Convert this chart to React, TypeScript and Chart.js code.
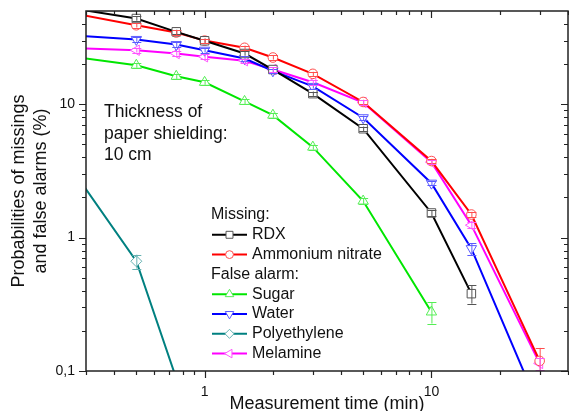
import React, { useEffect, useRef } from 'react';
import { Chart, registerables } from 'chart.js';

Chart.register(...registerables);

const FONT = "'Liberation Sans', Arial, sans-serif";

// Measurement times (min)
const TIMES = [0.25, 0.5, 0.75, 1, 1.5, 2, 3, 5, 10, 15, 30];

// Missing probabilities (%)
const RDX = [53, 43.9, 34.9, 29.9, 24.0, 18.2, 12.0, 6.55, 1.53, 0.38, null];
const RDX_ERR = [0, 1.6, 1.3, 1.1, 0.9, 0.7, 0.45, 0.25, 0.08, 0.06, 0];
const AMMONIUM_NITRATE = [48.9, 39.1, 34.5, 30.0, 26.5, 22.4, 16.9, 10.4, 3.75, 1.49, 0.119];
const AMMONIUM_NITRATE_ERR = [0, 1.5, 1.3, 1.1, 1.0, 0.8, 0.6, 0.4, 0.15, 0.07, 0.03];

// False alarm probabilities (%)
const SUGAR = [23.0, 19.6, 16.2, 14.6, 10.5, 8.28, 4.77, 1.88, 0.277, null, null];
const SUGAR_ERR = [0, 0.8, 0.7, 0.6, 0.45, 0.35, 0.2, 0.09, 0.05, 0, 0];
const WATER = [33.0, 30.6, 28.0, 25.4, 22.0, 17.8, 13.6, 7.92, 2.56, 0.827, 0.052];
const WATER_ERR = [0, 1.2, 1.1, 1.0, 0.85, 0.7, 0.5, 0.3, 0.1, 0.08, 0];
const POLYETHYLENE = [3.6, 0.665, 0.088, null, null, null, null, null, null, null, null];
const POLYETHYLENE_ERR = [0, 0.08, 0, 0, 0, 0, 0, 0, 0, 0, 0];
const MELAMINE = [26.5, 25.4, 24.0, 22.7, 21.2, 18.2, 14.6, 10.3, 3.68, 1.24, 0.114];
const MELAMINE_ERR = [0, 1.0, 0.9, 0.9, 0.8, 0.7, 0.55, 0.4, 0.14, 0.06, 0.012];

// Axis ticks
const X_MAJOR_TICKS = [1, 10];
const X_TICK_LABELS = ['1', '10'];
const X_MINOR_TICKS = [0.3, 0.4, 0.5, 0.6, 0.7, 0.8, 0.9, 2, 3, 4, 5, 6, 7, 8, 9, 20, 30, 40];
const Y_MAJOR_TICKS = [0.1, 1, 10];
const Y_TICK_LABELS = ['0,1', '1', '10'];
const Y_MINOR_TICKS = [0.2, 0.3, 0.4, 0.5, 0.6, 0.7, 0.8, 0.9, 2, 3, 4, 5, 6, 7, 8, 9, 20, 30, 40];

const X_TITLE = 'Measurement time (min)';
const Y_TITLE = ['Probabilities of missings', 'and false alarms (%)'];
const NOTE_LINES = ['Thickness of', 'paper shielding:', '10 cm'];
const GROUP_MISSING = 'Missing:';
const GROUP_FALSE = 'False alarm:';

const SERIES = [
  { label: 'RDX', group: 0, values: RDX, errors: RDX_ERR, line: '#000000', marker: '#555555', style: 'rect', rot: 0, r: 6 },
  { label: 'Ammonium nitrate', group: 0, values: AMMONIUM_NITRATE, errors: AMMONIUM_NITRATE_ERR, line: '#ff0000', marker: '#ff4d4d', style: 'circle', rot: 0, r: 4.8 },
  { label: 'Sugar', group: 1, values: SUGAR, errors: SUGAR_ERR, line: '#00e600', marker: '#55ee55', style: 'triangle', rot: 0, r: 6 },
  { label: 'Water', group: 1, values: WATER, errors: WATER_ERR, line: '#0000ff', marker: '#5a5aff', style: 'triangle', rot: 180, r: 6 },
  { label: 'Polyethylene', group: 1, values: POLYETHYLENE, errors: POLYETHYLENE_ERR, line: '#008080', marker: '#66b2b2', style: 'rectRot', rot: 0, r: 5.5 },
  { label: 'Melamine', group: 1, values: MELAMINE, errors: MELAMINE_ERR, line: '#ff00ff', marker: '#ff55ff', style: 'triangle', rot: -90, r: 6 },
];

function drawMarker(ctx, style, rot, x, y, r) {
  ctx.beginPath();
  if (style === 'rect') {
    const s = r * Math.SQRT1_2;
    ctx.rect(x - s, y - s, 2 * s, 2 * s);
  } else if (style === 'circle') {
    ctx.arc(x, y, r, 0, Math.PI * 2);
  } else if (style === 'rectRot') {
    ctx.moveTo(x, y - r);
    ctx.lineTo(x + r, y);
    ctx.lineTo(x, y + r);
    ctx.lineTo(x - r, y);
    ctx.closePath();
  } else {
    let rad = (rot * Math.PI) / 180;
    ctx.moveTo(x + Math.sin(rad) * r, y - Math.cos(rad) * r);
    for (let k = 0; k < 2; k++) {
      rad += (2 * Math.PI) / 3;
      ctx.lineTo(x + Math.sin(rad) * r, y - Math.cos(rad) * r);
    }
    ctx.closePath();
  }
  ctx.fill();
  ctx.stroke();
}

const decorPlugin = {
  id: 'decor',
  afterDatasetsDraw(chart) {
    const { ctx, chartArea: a } = chart;
    const xs = chart.scales.x;
    const ys = chart.scales.y;
    // error bars
    ctx.save();
    ctx.beginPath();
    ctx.rect(a.left, a.top, a.right - a.left, a.bottom - a.top);
    ctx.clip();
    chart.data.datasets.forEach((ds) => {
      const errs = ds.errors || [];
      ds.data.forEach((p, i) => {
        const e = errs[i];
        if (p.y == null || !e) return;
        const px = xs.getPixelForValue(p.x);
        const yHi = ys.getPixelForValue(p.y + e);
        const yLo = ys.getPixelForValue(Math.max(p.y - e, 1e-4));
        ctx.strokeStyle = ds.pointBorderColor;
        ctx.lineWidth = 1;
        ctx.beginPath();
        ctx.moveTo(px + 0.5, yHi);
        ctx.lineTo(px + 0.5, yLo);
        ctx.moveTo(px - 4, Math.round(yHi) + 0.5);
        ctx.lineTo(px + 5, Math.round(yHi) + 0.5);
        ctx.moveTo(px - 4, Math.round(yLo) + 0.5);
        ctx.lineTo(px + 5, Math.round(yLo) + 0.5);
        ctx.stroke();
      });
    });
    ctx.restore();

    // frame and ticks
    ctx.save();
    ctx.strokeStyle = '#222';
    ctx.lineWidth = 1.5;
    ctx.strokeRect(a.left, a.top, a.right - a.left, a.bottom - a.top);
    ctx.lineWidth = 1.2;
    ctx.beginPath();
    const xt = (v, len) => {
      const px = Math.round(xs.getPixelForValue(v)) + 0.5;
      ctx.moveTo(px, a.bottom);
      ctx.lineTo(px, a.bottom + len);
      ctx.moveTo(px, a.top);
      ctx.lineTo(px, a.top + len);
    };
    const yt = (v, len) => {
      const py = Math.round(ys.getPixelForValue(v)) + 0.5;
      ctx.moveTo(a.left, py);
      ctx.lineTo(a.left - len, py);
      ctx.moveTo(a.right, py);
      ctx.lineTo(a.right - len, py);
    };
    X_MAJOR_TICKS.forEach((v) => xt(v, 7));
    X_MINOR_TICKS.forEach((v) => xt(v, 4));
    Y_MAJOR_TICKS.forEach((v) => yt(v, 7));
    Y_MINOR_TICKS.forEach((v) => yt(v, 4));
    ctx.stroke();
    ctx.restore();
  },
  afterDraw(chart) {
    const { ctx } = chart;
    ctx.save();
    // annotation
    ctx.fillStyle = '#111';
    ctx.font = `17.5px ${FONT}`;
    ctx.textBaseline = 'alphabetic';
    ctx.textAlign = 'left';
    const noteY = [117, 138.5, 160];
    NOTE_LINES.forEach((t, i) => ctx.fillText(t, 104, noteY[i]));

    // legend
    ctx.font = `16px ${FONT}`;
    ctx.textBaseline = 'middle';
    const lx0 = 212;
    const lx1 = 247;
    const tx = 252;
    const rows = [
      { header: GROUP_MISSING },
      SERIES[0],
      SERIES[1],
      { header: GROUP_FALSE },
      SERIES[2],
      SERIES[3],
      SERIES[4],
      SERIES[5],
    ];
    rows.forEach((row, i) => {
      const y = 215 + i * 19.8;
      if (row.header) {
        ctx.fillStyle = '#111';
        ctx.fillText(row.header, 211, y);
        return;
      }
      ctx.strokeStyle = row.line;
      ctx.lineWidth = 2;
      ctx.beginPath();
      ctx.moveTo(lx0, y);
      ctx.lineTo(lx1, y);
      ctx.stroke();
      ctx.strokeStyle = row.marker;
      ctx.fillStyle = '#fff';
      ctx.lineWidth = 1;
      drawMarker(ctx, row.style, row.rot, (lx0 + lx1) / 2, y, row.r * 0.82);
      ctx.fillStyle = '#111';
      ctx.fillText(row.label, tx, y);
    });
    ctx.restore();
  },
};

export default function App() {
  const ref = useRef(null);
  useEffect(() => {
    const datasets = SERIES.map((s) => ({
      label: s.label,
      data: TIMES.map((t, i) => ({ x: t, y: s.values[i] })),
      errors: s.errors,
      borderColor: s.line,
      borderWidth: 2,
      pointStyle: s.style,
      pointRotation: s.rot,
      pointRadius: s.r,
      pointBorderColor: s.marker,
      pointBackgroundColor: '#ffffff',
      pointBorderWidth: 1,
      fill: false,
      tension: 0,
      spanGaps: false,
    }));
    const chart = new Chart(ref.current, {
      type: 'line',
      data: { datasets },
      options: {
        animation: false,
        responsive: true,
        maintainAspectRatio: false,
        layout: { padding: { top: 11, right: 3, left: 0, bottom: 0 } },
        plugins: { legend: { display: false }, tooltip: { enabled: false } },
        scales: {
          x: {
            type: 'logarithmic',
            position: 'bottom',
            min: 0.3,
            max: 40,
            grid: { display: false, drawTicks: false },
            border: { display: false },
            afterBuildTicks: (s) => {
              s.ticks = X_MAJOR_TICKS.map((v) => ({ value: v, major: true }));
            },
            ticks: {
              autoSkip: false,
              maxRotation: 0,
              padding: 13,
              color: '#111',
              font: { family: FONT, size: 14 },
              callback: (v) => {
                const k = X_MAJOR_TICKS.indexOf(Number(v));
                return k >= 0 ? X_TICK_LABELS[k] : '';
              },
            },
            title: {
              display: true,
              text: X_TITLE,
              color: '#111',
              font: { family: FONT, size: 18, lineHeight: 1 },
              padding: { top: 0, bottom: -2.5 },
            },
            afterFit: (s) => {
              s.height = 40;
              s.paddingLeft = 0;
              s.paddingRight = 0;
              s.paddingTop = 0;
              s.paddingBottom = 0;
            },
          },
          y: {
            type: 'logarithmic',
            position: 'left',
            min: 0.1,
            max: 50,
            grid: { display: false, drawTicks: false },
            border: { display: false },
            afterBuildTicks: (s) => {
              s.ticks = Y_MAJOR_TICKS.map((v) => ({ value: v, major: true }));
            },
            ticks: {
              autoSkip: false,
              padding: 11,
              color: '#111',
              font: { family: FONT, size: 14 },
              callback: (v) => {
                const k = Y_MAJOR_TICKS.indexOf(Number(v));
                return k >= 0 ? Y_TICK_LABELS[k] : '';
              },
            },
            title: {
              display: true,
              text: Y_TITLE,
              color: '#111',
              font: { family: FONT, size: 18, lineHeight: 1.25 },
              padding: { top: 7.5, bottom: 0 },
            },
            afterFit: (s) => {
              s.width = 86;
              s.paddingLeft = 0;
              s.paddingRight = 0;
              s.paddingTop = 0;
              s.paddingBottom = 0;
            },
          },
        },
      },
      plugins: [decorPlugin],
    });
    return () => chart.destroy();
  }, []);

  return (
    <div style={{ position: 'fixed', left: 0, top: 0, width: 569, height: 411, overflow: 'hidden', background: '#fff' }}>
      <div style={{ position: 'relative', width: 575, height: 411 }}>
        <canvas ref={ref} />
      </div>
    </div>
  );
}
